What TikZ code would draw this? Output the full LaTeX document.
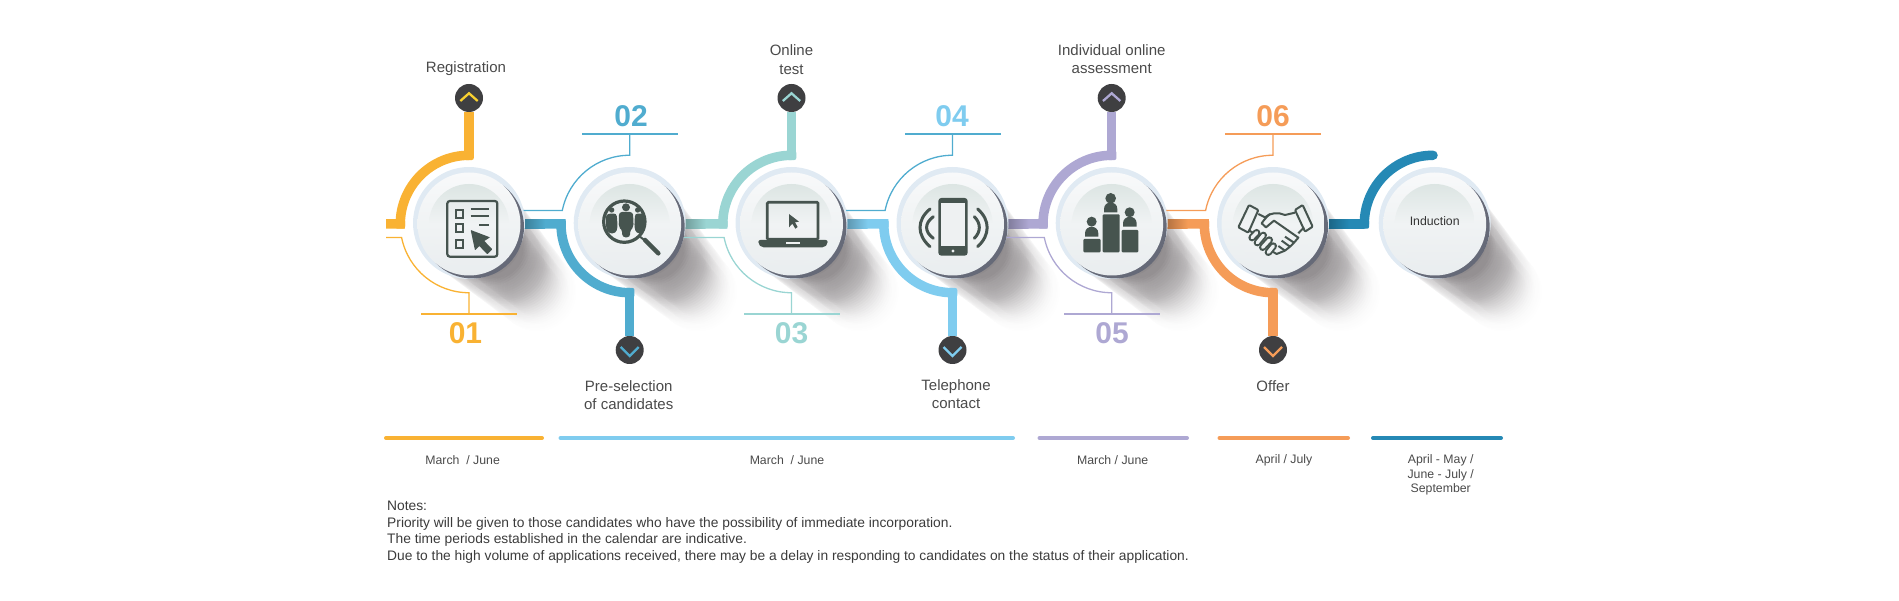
\documentclass[tikz,border=0pt]{standalone}
\usepackage{fontspec}
\setmainfont{Liberation Sans}
\usepackage{xcolor}
\usepackage{tikz}
\usetikzlibrary{calc}
\definecolor{stepa}{HTML}{F9B233}
\definecolor{stepb}{HTML}{50ACCF}
\definecolor{stepc}{HTML}{9AD5D3}
\definecolor{stepd}{HTML}{7FCCEF}
\definecolor{stepe}{HTML}{AEA8D3}
\definecolor{stepf}{HTML}{F59C58}
\definecolor{stepg}{HTML}{2589B5}
\definecolor{chevy}{HTML}{F8D030}
\definecolor{knob}{HTML}{3F3F41}
\definecolor{iconc}{HTML}{46544F}
\definecolor{iconbg}{HTML}{EEF1F2}
\definecolor{textc}{HTML}{4A4A4A}
\definecolor{ringc}{HTML}{E0EAF3}
\definecolor{edgec}{HTML}{666A78}
\definecolor{shadowc}{HTML}{2A2226}
\definecolor{disctop}{HTML}{F8F9FA}
\definecolor{discmid}{HTML}{F0F3F4}
\definecolor{discbot}{HTML}{E9EDEF}
\definecolor{dishtop}{HTML}{DCE5E3}
\definecolor{dishbot}{HTML}{EBEEF0}
\tikzset{
  pipe/.style={line width=9.5pt},
  wire/.style={line width=1.3pt},
  joint/.style={rectangle,rounded corners=2pt,minimum size=9.5pt,inner sep=0pt,fill},
  rulebar/.style={rectangle,minimum width=96pt,minimum height=1.7pt,inner sep=0pt,fill},
  knobnode/.style={circle,minimum size=28pt,inner sep=0pt,fill=knob},
  chevron/.style={line width=2.3pt},
  number/.style={font=\fontsize{30}{30}\selectfont\bfseries,inner sep=0pt},
  caption/.style={font=\fontsize{15}{18.5}\selectfont,text=textc,align=center,inner sep=0pt},
  datebar/.style={line width=4pt,line cap=round},
  datetext/.style={font=\fontsize{12.3}{14.4}\selectfont,text=textc,align=center,inner sep=0pt},
  icon/.style={fill=iconc,draw=none},
  iconline/.style={draw=iconc,line width=2.2pt},
  handline/.style={draw=iconc,line width=2pt,line join=round}
}
\begin{document}
\begin{tikzpicture}[x=1pt,y=-1pt]
    \useasboundingbox (0,0) rectangle (1899,601);

    % Centres of the discs
    \coordinate (d1) at (469,224);
    \coordinate (d2) at (629.7,224);
    \coordinate (d3) at (791.5,224);
    \coordinate (d4) at (952.5,224);
    \coordinate (d5) at (1111.7,224);
    \coordinate (d6) at (1273,224);
    \coordinate (d7) at (1434.7,224);

    % Long shadows
    \foreach \cx in {469,629.7,791.5,952.5,1111.7,1273,1434.7} {
      \foreach \i [evaluate=\i as \off using 2*\i, evaluate=\i as \rad using 53-0.4*\i, evaluate=\i as \shadeop using 0.017*(1-\i/44)] in {1,...,34} {
        \fill[shadowc,opacity=\shadeop] (\cx+\off,224+\off) circle (\rad);
        \fill[shadowc,opacity=\shadeop] (\cx+\off,224+\off) circle (\rad-7);
        \fill[shadowc,opacity=\shadeop] (\cx+\off,224+\off) circle (\rad-14);
      }
    }

    % Step 1
    \coordinate (starta) at (386,224);
    \coordinate (startw) at (386,237.5);
    \node[knobnode] (knob1) at (469,98) {};
    \node[rulebar,fill=stepa] (rule1) at (469,314) {};
    \draw[pipe,stepa] (starta) -- ($(d1)+(-68.7,0)$) arc[start angle=180,end angle=270,radius=68.7];
    \draw[pipe,stepa] ($(d1)+(0,-68.7)$) -- (knob1);
    \node[joint,stepa] (j1a) at ($(d1)+(-68.7,0)$) {};
    \node[joint,stepa] (j1b) at ($(d1)+(0,-68.7)$) {};
    \draw[wire,stepa] (startw) -- ($(d1)+(-67.4,13.5)$) arc[start angle=168.7,end angle=90,radius=68.7] -- (rule1);
    \draw[chevron,chevy] (knob1) ++(-8.7,3) -- ++(8.7,-7.7) -- ++(8.7,7.7);

    % Step 2
    \node[knobnode] (knob2) at (629.7,350) {};
    \node[rulebar,fill=stepb] (rule2) at (629.7,134) {};
    \draw[pipe,stepb] (d1) -- ($(d2)+(-68.7,0)$) arc[start angle=180,end angle=90,radius=68.7];
    \shade[left color=stepb!60!black,right color=stepb] ($(d1)+(45,-4.75)$) rectangle ($(d1)+(76,4.75)$);
    \draw[pipe,stepb] ($(d2)+(0,68.7)$) -- (knob2);
    \node[joint,stepb] (j2a) at ($(d2)+(-68.7,0)$) {};
    \node[joint,stepb] (j2b) at ($(d2)+(0,68.7)$) {};
    \draw[wire,stepb] ($(d1)+(0,-13.5)$) -- ($(d2)+(-67.4,-13.5)$) arc[start angle=191.3,end angle=270,radius=68.7] -- (rule2);
    \draw[chevron,stepb] (knob2) ++(-9,-3) -- ++(9,9) -- ++(9,-9);

    % Step 3
    \node[knobnode] (knob3) at (791.5,98) {};
    \node[rulebar,fill=stepc] (rule3) at (791.5,314) {};
    \draw[pipe,stepc] (d2) -- ($(d3)+(-68.7,0)$) arc[start angle=180,end angle=270,radius=68.7];
    \shade[left color=stepc!60!black,right color=stepc] ($(d2)+(45,-4.75)$) rectangle ($(d2)+(76,4.75)$);
    \draw[pipe,stepc] ($(d3)+(0,-68.7)$) -- (knob3);
    \node[joint,stepc] (j3a) at ($(d3)+(-68.7,0)$) {};
    \node[joint,stepc] (j3b) at ($(d3)+(0,-68.7)$) {};
    \draw[wire,stepc] ($(d2)+(0,13.5)$) -- ($(d3)+(-67.4,13.5)$) arc[start angle=168.7,end angle=90,radius=68.7] -- (rule3);
    \draw[chevron,stepc] (knob3) ++(-8.7,3) -- ++(8.7,-7.7) -- ++(8.7,7.7);

    % Step 4
    \node[knobnode] (knob4) at (952.5,350) {};
    \node[rulebar,fill=stepb] (rule4) at (952.5,134) {};
    \draw[pipe,stepd] (d3) -- ($(d4)+(-68.7,0)$) arc[start angle=180,end angle=90,radius=68.7];
    \shade[left color=stepd!60!black,right color=stepd] ($(d3)+(45,-4.75)$) rectangle ($(d3)+(76,4.75)$);
    \draw[pipe,stepd] ($(d4)+(0,68.7)$) -- (knob4);
    \node[joint,stepd] (j4a) at ($(d4)+(-68.7,0)$) {};
    \node[joint,stepd] (j4b) at ($(d4)+(0,68.7)$) {};
    \draw[wire,stepb] ($(d3)+(0,-13.5)$) -- ($(d4)+(-67.4,-13.5)$) arc[start angle=191.3,end angle=270,radius=68.7] -- (rule4);
    \draw[chevron,stepd] (knob4) ++(-9,-3) -- ++(9,9) -- ++(9,-9);

    % Step 5
    \node[knobnode] (knob5) at (1111.7,98) {};
    \node[rulebar,fill=stepe] (rule5) at (1111.7,314) {};
    \draw[pipe,stepe] (d4) -- ($(d5)+(-68.7,0)$) arc[start angle=180,end angle=270,radius=68.7];
    \shade[left color=stepe!60!black,right color=stepe] ($(d4)+(45,-4.75)$) rectangle ($(d4)+(76,4.75)$);
    \draw[pipe,stepe] ($(d5)+(0,-68.7)$) -- (knob5);
    \node[joint,stepe] (j5a) at ($(d5)+(-68.7,0)$) {};
    \node[joint,stepe] (j5b) at ($(d5)+(0,-68.7)$) {};
    \draw[wire,stepe] ($(d4)+(0,13.5)$) -- ($(d5)+(-67.4,13.5)$) arc[start angle=168.7,end angle=90,radius=68.7] -- (rule5);
    \draw[chevron,stepe] (knob5) ++(-8.7,3) -- ++(8.7,-7.7) -- ++(8.7,7.7);

    % Step 6
    \node[knobnode] (knob6) at (1273,350) {};
    \node[rulebar,fill=stepf] (rule6) at (1273,134) {};
    \draw[pipe,stepf] (d5) -- ($(d6)+(-68.7,0)$) arc[start angle=180,end angle=90,radius=68.7];
    \shade[left color=stepf!60!black,right color=stepf] ($(d5)+(45,-4.75)$) rectangle ($(d5)+(76,4.75)$);
    \draw[pipe,stepf] ($(d6)+(0,68.7)$) -- (knob6);
    \node[joint,stepf] (j6a) at ($(d6)+(-68.7,0)$) {};
    \node[joint,stepf] (j6b) at ($(d6)+(0,68.7)$) {};
    \draw[wire,stepf] ($(d5)+(0,-13.5)$) -- ($(d6)+(-67.4,-13.5)$) arc[start angle=191.3,end angle=270,radius=68.7] -- (rule6);
    \draw[chevron,stepf] (knob6) ++(-9,-3) -- ++(9,9) -- ++(9,-9);

    % Step 7
    \draw[pipe,stepg] (d6) -- ($(d7)+(-70.4,0)$);
    \draw[pipe,stepg,line cap=round] ($(d7)+(-70.4,0)$) arc[start angle=180,end angle=270,radius=68.7];
    \shade[left color=stepg!60!black,right color=stepg] ($(d6)+(45,-4.75)$) rectangle ($(d6)+(76,4.75)$);
    \node[joint,stepg] (j7a) at ($(d7)+(-70.4,0)$) {};

    % Discs
    \foreach \cx in {469,629.7,791.5,952.5,1111.7,1273,1434.7} {
      \fill[ringc] (\cx,223) circle (56);
      \fill[edgec] (\cx+3.5,227) circle (51.5);
      \shade[top color=disctop,bottom color=discbot,middle color=discmid] (\cx,224) circle (51.5);
      \shade[top color=dishtop,bottom color=dishbot,middle color=discmid] (\cx,224) circle (40);
    }

    % Icon 1
    \begin{scope}[shift={(435,190)},scale=0.3333]
      \draw[iconline,rounded corners=2.5pt] (37,33) rectangle (187,200);
      \draw[iconline] (62,60) rectangle (85,84);
      \draw[iconline] (62,103) rectangle (85,127);
      \draw[iconline] (62,149) rectangle (85,173);
      \draw[iconline] (107,57) -- (163,57);
      \draw[iconline] (107,78) -- (163,78);
      \draw[iconline] (133,104) -- (163,104);
      \fill[icon,rounded corners=0.5pt] (107,120) -- (165,142) -- (148,153) -- (172,178) -- (157,193) -- (133,168) -- (120,181) -- cycle;
    \end{scope}

    % Icon 2
    \begin{scope}[shift={(595,190)},scale=0.3333]
      \begin{scope}
        \clip (88,95) circle (60);
        \fill[icon] (50,60) circle (8);
        \fill[icon] (128,60) circle (8);
        \fill[icon,rounded corners=3pt] (33,72) -- (65,70) -- (68,112) -- (62,130) -- (40,130) -- (33,112) -- cycle;
        \fill[icon,rounded corners=3pt] (120,70) -- (152,72) -- (152,112) -- (144,130) -- (124,130) -- (118,112) -- cycle;
      \end{scope}
      \fill[icon] (93,52) circle (12);
      \fill[icon,rounded corners=3pt] (72,66) -- (114,66) -- (116,112) -- (106,118) -- (105,142) -- (82,142) -- (81,118) -- (71,112) -- cycle;
      \draw[iconc,line width=3.2pt] (88,95) circle (62);
      \draw[iconc,line width=2pt] (135,140) -- (150,152);
      \draw[iconc,line width=4.5pt,line cap=round] (150,150) -- (190,190);
    \end{scope}

    % Icon 3
    \begin{scope}[shift={(755,190)},scale=0.3333]
      \draw[iconc,line width=2.7pt,rounded corners=1pt] (37,37) rectangle (189,148);
      \fill[icon,rounded corners=2pt] (10,150) -- (218,150) -- (218,162) -- (208,172) -- (20,172) -- (10,162) -- cycle;
      \fill[iconbg] (92,157) rectangle (135,163);
      \fill[icon] (102,72) -- (102,112) -- (112,101) -- (121,116) -- (128,111) -- (120,97) -- (132,95) -- cycle;
    \end{scope}

    % Icon 4
    \begin{scope}[shift={(915,190)},scale=0.3333]
      \fill[icon,rounded corners=3pt] (70,24) rectangle (158,197);
      \fill[iconbg] (78,40) rectangle (150,168);
      \fill[iconbg] (114,183) circle (5);
      \draw[iconc,line width=3pt,line cap=round] (45,57) .. controls (5,90) and (5,135) .. (45,170);
      \draw[iconc,line width=3pt,line cap=round] (55,80) .. controls (28,100) and (28,125) .. (55,145);
      \draw[iconc,line width=3pt,line cap=round] (188,57) .. controls (226,90) and (226,135) .. (188,170);
      \draw[iconc,line width=3pt,line cap=round] (178,80) .. controls (198,100) and (198,125) .. (178,145);
    \end{scope}

    % Icon 5
    \begin{scope}[shift={(1075,185)},scale=0.3333]
      \fill[icon,rounded corners=1pt] (25,162) rectangle (77,202);
      \fill[icon,rounded corners=1pt] (83,88) rectangle (134,202);
      \fill[icon,rounded corners=1pt] (140,135) rectangle (190,202);
      \fill[icon] (107,40) circle (16);
      \fill[icon] (50,110) circle (15);
      \fill[icon] (164,82) circle (15);
      \fill[icon] (87,82) -- (87,72) .. controls (87,46) and (127,46) .. (127,72) -- (127,82) -- cycle;
      \fill[icon] (30,155) -- (30,145) .. controls (30,119) and (70,119) .. (70,145) -- (70,155) -- cycle;
      \fill[icon] (144,125) -- (144,115) .. controls (144,89) and (185,89) .. (185,115) -- (185,125) -- cycle;
    \end{scope}

    % Icon 6
    \begin{scope}[shift={(1230,190)},scale=0.3333]
      \draw[handline,rounded corners=1pt] (57,45) -- (85,60) -- (55,128) -- (25,112) -- cycle;
      \draw[handline,rounded corners=1pt] (195,60) -- (218,45) -- (248,110) -- (225,125) -- cycle;
      \draw[handline] (85,72) -- (105,82) .. controls (120,68) and (145,66) .. (165,75) -- (195,68);
      \draw[handline] (120,72) .. controls (110,80) and (100,92) .. (95,100) -- (108,112) -- (132,92) -- (205,143) -- (192,158) -- (165,140);
      \draw[handline] (192,158) -- (180,170) -- (155,152);
      \draw[handline] (180,170) -- (165,182) -- (145,168);
      \draw[handline] (165,182) -- (140,192) -- (128,185);
      \draw[handline] (222,112) -- (205,130);
      \draw[handline] (55,120) -- (68,128);
      \draw[handline,double=iconbg,double distance=3.4pt,line cap=round] (66,143) -- (80,128);
      \draw[handline,double=iconbg,double distance=3.4pt,line cap=round] (82,158) -- (100,136);
      \draw[handline,double=iconbg,double distance=3.4pt,line cap=round] (98,172) -- (118,150);
      \draw[handline,double=iconbg,double distance=3.4pt,line cap=round] (115,187) -- (130,168);
    \end{scope}

    % Numbers
    \node[number,stepa] (num1) at (465.5,333) {01};
    \node[number,stepb] (num2) at (631,116) {02};
    \node[number,stepc] (num3) at (791.5,333) {03};
    \node[number,stepd] (num4) at (952,116) {04};
    \node[number,stepe] (num5) at (1112,333) {05};
    \node[number,stepf] (num6) at (1273,116) {06};

    % Captions
    \node[caption] (cap1) at (466,69) {Registration};
    \node[caption] (cap2) at (628.7,395) {Pre-selection\\of candidates};
    \node[caption] (cap3) at (791.5,59.5) {Online\\test};
    \node[caption] (cap4) at (956,394) {Telephone\\contact};
    \node[caption] (cap5) at (1111.7,59) {Individual online\\assessment};
    \node[caption] (cap6) at (1273,386) {Offer};
    \node[datetext,text=textc!70!black] (cap7) at (1434.7,220.7) {Induction};

    % Date bars
    \draw[datebar,stepa] (386,438) -- (542,438);
    \draw[datebar,stepd] (560.5,438) -- (1013,438);
    \draw[datebar,stepe] (1039.5,438) -- (1187,438);
    \draw[datebar,stepf] (1219.5,438) -- (1348,438);
    \draw[datebar,stepg] (1373,438) -- (1501,438);
    \node[datetext] (date1) at (462.6,460) {March~ / June};
    \node[datetext] (date2) at (787,460) {March~ / June};
    \node[datetext] (date3) at (1112.7,460) {March / June};
    \node[datetext] (date4) at (1284,460.5) {April / July};
    \node[datetext] (date5) at (1440.7,475) {April - May /\\June - July /\\September};

    % Notes
    \node[datetext,align=left,anchor=north west,font=\fontsize{13.8}{16.55}\selectfont,text=textc!80!black] (notes) at (387,501) {Notes:\\Priority will be given to those candidates who have the possibility of immediate incorporation.\\The time periods established in the calendar are indicative.\\Due to the high volume of applications received, there may be a delay in responding to candidates on the status of their application.};
\end{tikzpicture}
\end{document}
